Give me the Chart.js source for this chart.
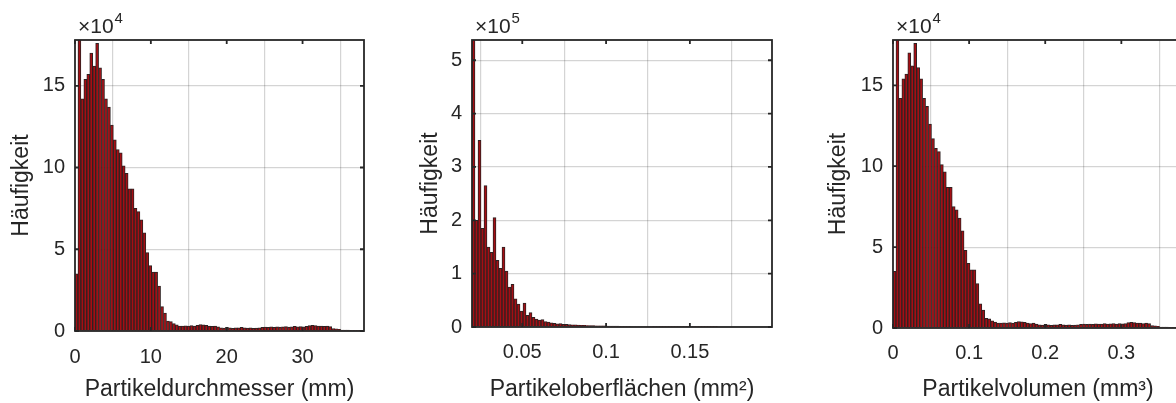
<!DOCTYPE html>
<html>
<head>
<meta charset="utf-8">
<script src="https://cdn.jsdelivr.net/npm/chart.js@4"></script>
<style>
  html, body { margin: 0; padding: 0; background: #fff; overflow: hidden; }
  #wrap { position: relative; width: 1176px; height: 403px; overflow: hidden; }
  #wrap canvas { position: absolute; top: 0; }
</style>
</head>
<body>
<div id="wrap">
  <canvas id="histDiam" width="390" height="403" style="left:0"></canvas>
  <canvas id="histArea" width="392" height="403" style="left:390px"></canvas>
  <canvas id="histVol" width="420" height="403" style="left:782px"></canvas>
</div>
<script>
// Particle histograms: diameter, surface area, volume

// diameter histogram, counts in units of 10^4
const diamBinStart = 0;
const diamBinWidth = 0.389;   // mm
const diamCounts = [
  3.5, 18.5, 14.2, 15.4, 15.7, 17.0, 16.2, 17.6, 16.1, 15.4,
  14.2, 13.7, 12.6, 11.7, 11.1, 10.9, 10.1, 9.65, 8.7, 8.7,
  7.5, 7.3, 6.8, 6.0, 4.8, 4.0, 3.6, 3.6, 2.75, 1.5,
  1.1, 0.6, 0.57, 0.45, 0.37, 0.3, 0.3, 0.32, 0.3, 0.33,
  0.3, 0.35, 0.4, 0.38, 0.35, 0.3, 0.28, 0.3, 0.25, 0.2,
  0.18, 0.22, 0.2, 0.17, 0.2, 0.19, 0.22, 0.2, 0.18, 0.2,
  0.17, 0.18, 0.2, 0.22, 0.24, 0.22, 0.25, 0.23, 0.26, 0.24,
  0.25, 0.27, 0.24, 0.26, 0.28, 0.25, 0.27, 0.26, 0.28, 0.33,
  0.35, 0.33, 0.3, 0.3, 0.28, 0.3, 0.27, 0.15, 0.14, 0.1,
  0.06, 0.05, 0.05, 0.04, 0.02, 0.02, 0.01, 0.01
];
const diamXTicks = [0, 10, 20, 30];
const diamYTicks = [0, 5, 10, 15];

// surface area histogram, counts in units of 10^5
const areaBinStart = 0.02;
const areaBinWidth = 0.00179; // mm^2
const areaCounts = [
  5.6, 2.0, 3.5, 1.85, 2.65, 1.5, 1.4, 2.05, 1.25, 1.1,
  1.5, 1.05, 0.75, 0.8, 0.53, 0.43, 0.3, 0.45, 0.22, 0.27,
  0.18, 0.15, 0.13, 0.14, 0.1, 0.09, 0.08, 0.07, 0.06, 0.065,
  0.05, 0.05, 0.045, 0.04, 0.04, 0.035, 0.03, 0.03, 0.028, 0.025,
  0.025, 0.022, 0.02, 0.02, 0.02, 0.018, 0.016, 0.015, 0.015, 0.014,
  0.013, 0.012, 0.012, 0.011, 0.011, 0.01, 0.01, 0.01, 0.009, 0.009,
  0.008, 0.008, 0.008, 0.007, 0.007, 0.007, 0.006, 0.006, 0.006, 0.006,
  0.005, 0.005, 0.005, 0.005, 0.005, 0.005, 0.004, 0.004, 0.004, 0.004,
  0.004, 0.003, 0, 0, 0, 0, 0, 0, 0, 0,
  0, 0, 0, 0, 0, 0, 0, 0, 0, 0
];
const areaXTicks = [0.05, 0.1, 0.15];
const areaYTicks = [0, 1, 2, 3, 4, 5];

// volume histogram, counts in units of 10^4 (same bin counts as diameter)
const volBinStart = 0;
const volBinWidth = 0.00389;  // mm^3
const volCounts = diamCounts;
const volXTicks = [0, 0.1, 0.2, 0.3];
const volYTicks = [0, 5, 10, 15];

const textColor = '#262626';
const gridColor = 'rgba(38,38,38,0.2)';
const barFill = 'rgb(165,14,20)';
const barEdge = 'rgb(46,34,34)';
const fontFamily = '"Liberation Sans", Arial, Helvetica, sans-serif';

Chart.defaults.font.family = fontFamily;
Chart.defaults.color = textColor;

// box around the plot, inward ticks on all sides, x10^n above the y axis
const axisBox = {
  id: 'axisBox',
  afterDatasetsDraw(chart, args, opts) {
    const { ctx, chartArea: a, scales: { x, y } } = chart;
    ctx.save();
    ctx.strokeStyle = textColor;
    ctx.lineWidth = 1.8;
    ctx.beginPath();
    x.ticks.forEach(t => {
      const px = x.getPixelForValue(t.value);
      ctx.moveTo(px, a.top); ctx.lineTo(px, a.top + 4);
      ctx.moveTo(px, a.bottom); ctx.lineTo(px, a.bottom - 4);
    });
    y.ticks.forEach(t => {
      const py = y.getPixelForValue(t.value);
      ctx.moveTo(a.left, py); ctx.lineTo(a.left + 4, py);
      ctx.moveTo(a.right, py); ctx.lineTo(a.right - 4, py);
    });
    ctx.stroke();
    ctx.strokeRect(a.left, a.top, a.right - a.left, a.bottom - a.top);

    ctx.fillStyle = textColor;
    ctx.textAlign = 'left';
    ctx.textBaseline = 'alphabetic';
    ctx.font = '21px ' + fontFamily;
    ctx.fillText('\u00d710', a.left + 3, 33);
    const w = ctx.measureText('\u00d710').width;
    ctx.font = '15px ' + fontFamily;
    ctx.fillText(opts.exponent, a.left + 4 + w, 23);
    ctx.restore();
  }
};

function makeHist(id, o) {
  const pts = o.counts.map((c, i) => ({ x: o.binStart + (i + 0.5) * o.binWidth, y: c }));
  return new Chart(document.getElementById(id), {
    type: 'bar',
    data: {
      datasets: [{
        data: pts,
        backgroundColor: barFill,
        borderColor: barEdge,
        borderWidth: 1,
        barPercentage: 1,
        categoryPercentage: 1
      }]
    },
    options: {
      responsive: false,
      animation: false,
      events: [],
      layout: { padding: { top: 40, right: o.padRight, left: 0, bottom: 0 } },
      plugins: {
        legend: { display: false },
        tooltip: { enabled: false },
        axisBox: { exponent: o.exponent }
      },
      scales: {
        x: {
          type: 'linear',
          min: o.xMin,
          max: o.xMax,
          offset: false,
          grid: { color: gridColor, lineWidth: 1.2, drawTicks: false },
          border: { display: false },
          ticks: {
            padding: o.xTickPad,
            font: { size: 20 },
            maxRotation: 0,
            autoSkip: false,
            callback: v => String(v)
          },
          afterBuildTicks: s => { s.ticks = o.xTicks.map(v => ({ value: v })); },
          afterFit: s => { s.height = o.xAxisH; },
          title: {
            display: true,
            text: o.xTitle,
            font: { size: 23 },
            padding: { top: 0, bottom: 0 }
          }
        },
        y: {
          type: 'linear',
          min: 0,
          max: o.yMax,
          grid: { color: gridColor, lineWidth: 1.2, drawTicks: false },
          border: { display: false },
          ticks: {
            padding: 10,
            font: { size: 20 },
            autoSkip: false,
            callback: v => String(v)
          },
          afterBuildTicks: s => { s.ticks = o.yTicks.map(v => ({ value: v })); },
          afterFit: s => { s.width = o.yAxisW; },
          title: {
            display: true,
            text: 'Häufigkeit',
            font: { size: 23 },
            padding: { top: o.yTitlePad, bottom: 0 }
          }
        }
      }
    },
    plugins: [axisBox]
  });
}

makeHist('histDiam', {
  counts: diamCounts, binStart: diamBinStart, binWidth: diamBinWidth,
  xMin: 0, xMax: 38.1, yMax: 17.8,
  xTicks: diamXTicks, yTicks: diamYTicks,
  xTitle: 'Partikeldurchmesser (mm)', exponent: '4',
  padRight: 26, yAxisW: 75, xAxisH: 72, xTickPad: 14, yTitlePad: 8
});

makeHist('histArea', {
  counts: areaCounts, binStart: areaBinStart, binWidth: areaBinWidth,
  xMin: 0.02, xMax: 0.199, yMax: 5.38,
  xTicks: areaXTicks, yTicks: areaYTicks,
  xTitle: 'Partikeloberflächen (mm²)', exponent: '5',
  padRight: 10, yAxisW: 82, xAxisH: 76, xTickPad: 13.5, yTitlePad: 27
});

makeHist('histVol', {
  counts: volCounts, binStart: volBinStart, binWidth: volBinWidth,
  xMin: 0, xMax: 0.381, yMax: 17.8,
  xTicks: volXTicks, yTicks: volYTicks,
  xTitle: 'Partikelvolumen (mm³)', exponent: '4',
  padRight: 19, yAxisW: 111, xAxisH: 75, xTickPad: 13.5, yTitlePad: 43
});
</script>
</body>
</html>
